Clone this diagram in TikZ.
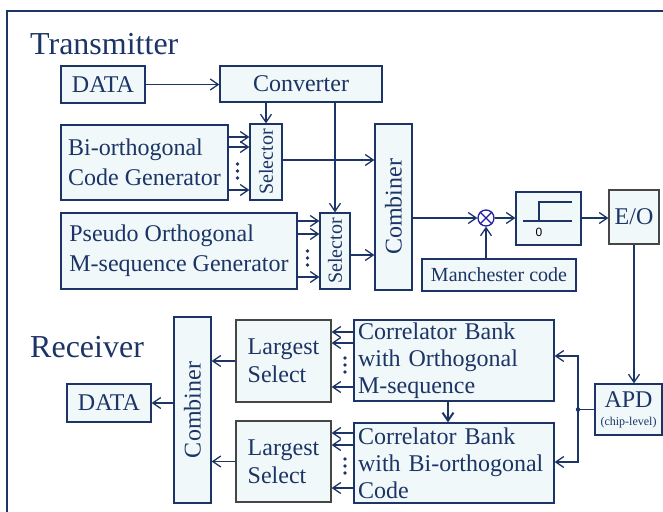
\documentclass[tikz,border=0pt]{standalone}
\usepackage{fontspec}
\setmainfont{Liberation Serif}
\newfontfamily\zerofont{Liberation Sans}
\usetikzlibrary{arrows.meta}
\definecolor{navy}{RGB}{28,52,102}
\definecolor{boxfill}{RGB}{240,248,249}
\definecolor{edgegray}{RGB}{70,70,70}
\definecolor{mixblue}{RGB}{30,30,160}

\begin{document}
\begin{tikzpicture}[x=1pt,y=-1pt,
  blk/.style={draw=navy,fill=boxfill,line width=1.3pt,inner sep=0pt,text=navy,font=\fontsize{24}{30}\selectfont},
  grayblk/.style={blk,draw=edgegray},
  vtext/.style={rotate=90,text=navy,inner sep=0pt,font=\fontsize{24}{30}\selectfont},
  arr/.style={draw=navy,line width=1.3pt,-{Straight Barb[length=8pt,width=11pt]}},
  ln/.style={draw=navy,line width=1.3pt},
  title/.style={anchor=base west,text=navy,inner sep=0pt,font=\fontsize{32}{36}\selectfont}]
    \useasboundingbox (0,0) rectangle (663,511);
    \draw[navy,line width=1.8pt] (7,530) -- (7,11) -- (680,11);

    \node[title] (txtitle) at (30,55) {Transmitter};
    \node[blk,minimum width=84pt,minimum height=37pt] (txdata) at (103,84.5) {DATA};
    \node[blk,minimum width=162pt,minimum height=36pt] (conv) at (301,84) {Converter};
    \node[blk,minimum width=167pt,minimum height=75pt,align=left] (bigen) at (144.5,162.5) {Bi-orthogonal\\Code Generator};
    \node[blk,minimum width=32pt,minimum height=76pt] (sel1) at (266,162) {};
    \node[vtext,font=\fontsize{20}{24}\selectfont] (sel1t) at (sel1) {Selector};
    \node[blk,minimum width=236pt,minimum height=76pt,align=left] (pngen) at (179,251) {Pseudo Orthogonal\\M-sequence Generator};
    \node[blk,minimum width=30pt,minimum height=76pt] (sel2) at (335,251) {};
    \node[vtext,font=\fontsize{20}{24}\selectfont] (sel2t) at (sel2) {Selector};
    \node[blk,minimum width=37pt,minimum height=166pt] (txcomb) at (393.5,207) {};
    \node[vtext] (txcombt) at (txcomb) {Combiner};
    \node[circle,draw=mixblue,line width=1.3pt,fill=white,minimum size=16pt,inner sep=0pt] (mix) at (486,218) {};
    \draw[mixblue,line width=1.3pt] (mix.north west) -- (mix.south east) (mix.north east) -- (mix.south west);
    \node[blk,minimum width=65pt,minimum height=53pt] (thr) at (548.5,218.5) {};
    \draw[ln] (523,221) -- (572,221) (539,221) -- (539,202) -- (572,202);
    \node[font=\zerofont\fontsize{12}{14}\selectfont,inner sep=0pt] (thrzero) at (539,232) {0};
    \node[grayblk,minimum width=50pt,minimum height=54pt] (eo) at (634,217) {E/O};
    \node[blk,minimum width=154pt,minimum height=32pt,font=\fontsize{20}{24}\selectfont] (man) at (499,275) {Manchester code};

    \node[title] (rxtitle) at (30,357) {Receiver};
    \node[blk,minimum width=37pt,minimum height=186pt] (rxcomb) at (192.5,410) {};
    \node[vtext] (rxcombt) at (rxcomb) {Combiner};
    \node[grayblk,minimum width=95pt,minimum height=82pt,align=left,font=\fontsize{24}{28}\selectfont] (ls1) at (283.5,361) {Largest\\Select};
    \node[grayblk,minimum width=95pt,minimum height=81pt,align=left,font=\fontsize{24}{28}\selectfont] (ls2) at (283.5,461.5) {Largest\\Select};
    \node[blk,minimum width=200pt,minimum height=81pt,text width=192pt,align=left,font=\fontsize{24}{27}\selectfont] (corr1) at (454,360.5) {Correlator Bank\\with Orthogonal\\M-sequence};
    \node[blk,minimum width=200pt,minimum height=80pt,text width=192pt,align=left,font=\fontsize{24}{27}\selectfont] (corr2) at (454,463) {Correlator Bank\\with Bi-orthogonal\\Code};
    \node[blk,minimum width=67pt,minimum height=51pt,align=center] (apd) at (628.5,409.5) {APD\\[-12pt]{\fontsize{12}{14}\selectfont(chip-level)}};
    \node[blk,minimum width=84pt,minimum height=38pt] (rxdata) at (109,403) {DATA};

    \draw[arr] (txdata.east) -- (txdata.east -| conv.west);
    \draw[arr] (sel1.north |- conv.south) -- (sel1.north);
    \draw[arr] (sel2.north |- conv.south) -- (sel2.north);
    \foreach \y in {137,147,190}
    \draw[arr] (bigen.east |- 0,\y) -- (sel1.west |- 0,\y);
    \foreach \y in {164,171,178}
    \fill[navy] (237.5,\y) circle (1.8);
    \foreach \y in {221,234,277}
    \draw[arr] (pngen.east |- 0,\y) -- (sel2.west |- 0,\y);
    \foreach \y in {251,258,265}
    \fill[navy] (307.5,\y) circle (1.8);
    \draw[arr] (sel1.east |- 0,160) -- (txcomb.west |- 0,160);
    \draw[arr] (sel2.east |- 0,255) -- (txcomb.west |- 0,255);
    \draw[arr] (txcomb.east |- mix) -- (mix.west);
    \draw[arr] (mix.east) -- (thr.west |- mix);
    \draw[arr] (mix |- man.north) -- (mix.south);
    \draw[arr] (thr.east |- mix) -- (eo.west |- mix);
    \draw[arr] (eo.south) -- (eo.south |- apd.north);

    \coordinate (jn) at (578,409.5);
    \draw[ln] (apd.west) -- (jn);
    \fill[navy] (jn) circle (2.2);
    \draw[arr] (jn) -- (jn |- 0,356) -- (corr1.east |- 0,356);
    \draw[arr] (jn) -- (jn |- 0,462) -- (corr2.east |- 0,462);
    \foreach \y in {332,343,387}
    \draw[arr] (corr1.west |- 0,\y) -- (ls1.east |- 0,\y);
    \foreach \y in {433,445,488}
    \draw[arr] (corr2.west |- 0,\y) -- (ls2.east |- 0,\y);
    \foreach \y in {358,365,372}
    \fill[navy] (345,\y) circle (1.8);
    \foreach \y in {459,466,473}
    \fill[navy] (345,\y) circle (1.8);
    \draw[arr] (ls1.west) -- (rxcomb.east |- ls1.west);
    \draw[arr] (ls2.west) -- (rxcomb.east |- ls2.west);
    \draw[arr] (rxcomb.west |- rxdata) -- (rxdata.east);
    \draw[arr,line width=2pt] (corr1.south -| 448,0) -- (corr2.north -| 448,0);
\end{tikzpicture}
\end{document}
